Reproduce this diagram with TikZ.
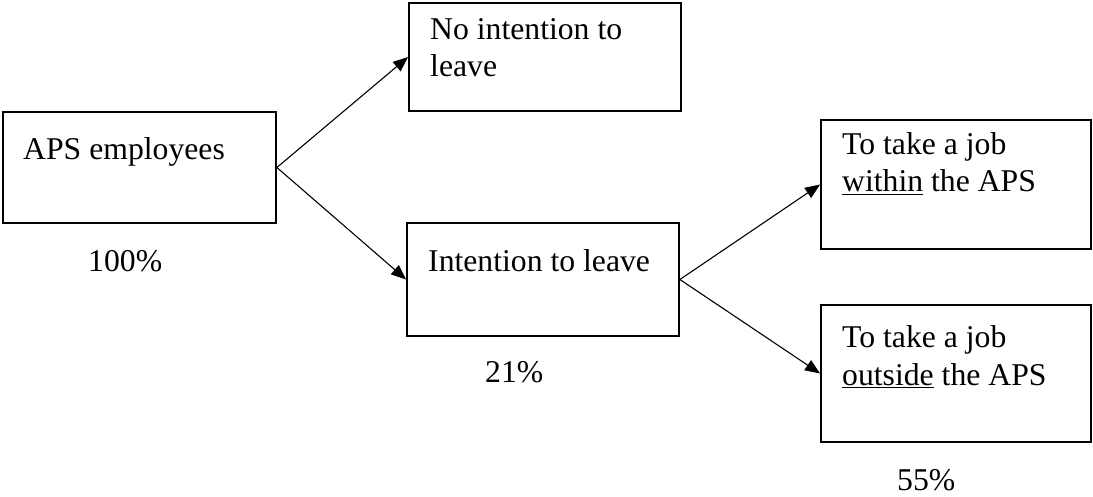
\documentclass[tikz,border=0pt]{standalone}
\usepackage{fontspec}
\setmainfont{Liberation Serif}
\usetikzlibrary{arrows.meta}
\begin{document}
\begin{tikzpicture}[x=1pt,y=-1pt,
  box/.style={draw=black,line width=1.8pt,inner sep=0pt,minimum width=#1},
  txt/.style={anchor=base west,inner sep=0pt,font=\fontsize{31.7}{37}\selectfont},
  arr/.style={line width=1.1pt,-{Triangle[length=15pt,width=12pt]}}]
\useasboundingbox (0,0) rectangle (1093,497);
\node[box=273pt,minimum height=111pt] (aps) at (139.5,167.5) {};
\node[box=272pt,minimum height=108pt] (noint) at (545,57) {};
\node[box=272pt,minimum height=113pt] (int) at (543,279.5) {};
\node[box=270pt,minimum height=129pt] (within) at (956,184.5) {};
\node[box=270pt,minimum height=137pt] (outside) at (956,373.5) {};
\node[txt] (t1) at (23,160) {APS employees};
\node[txt] (t2a) at (430,40) {No intention to};
\node[txt] (t2b) at (430,77) {leave};
\node[txt] (t3) at (428,272) {Intention to leave};
\node[txt] (t4a) at (842,155) {To take a job};
\node[txt] (t4b) at (842,192) {\underline{within} the APS};
\node[txt] (t5a) at (842,347) {To take a job};
\node[txt] (t5b) at (842,385) {\underline{outside} the APS};
\node[txt] (p1) at (88,272) {100\%};
\node[txt] (p2) at (485,382) {21\%};
\node[txt] (p3) at (897,490) {55\%};
\draw[arr] (aps.east) -- (noint.west);
\draw[arr] (aps.east) -- (int.west);
\draw[arr] (int.east) -- (within.west);
\draw[arr] (int.east) -- (outside.west);
\end{tikzpicture}
\end{document}
